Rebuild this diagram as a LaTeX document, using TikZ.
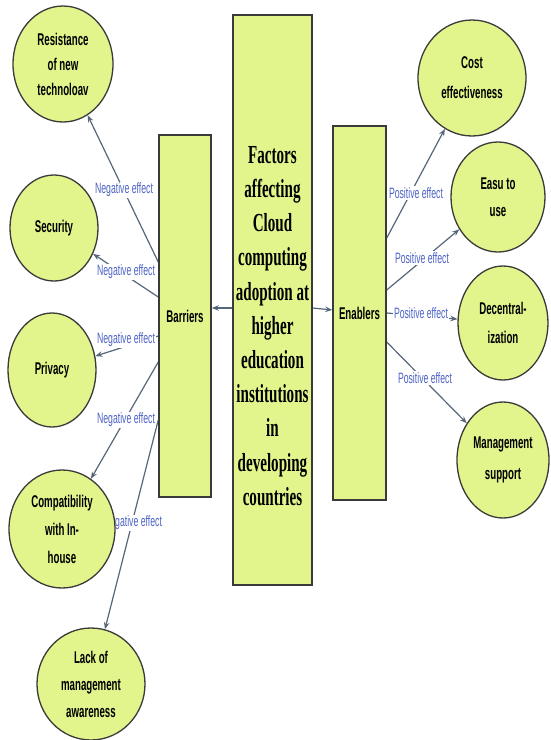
\documentclass[tikz,border=0pt]{standalone}
\usepackage{fontspec}
\usetikzlibrary{shapes.geometric,arrows.meta,calc}
\newfontfamily\serifc[FakeStretch=0.58]{Liberation Serif}
\newfontfamily\sansc[FakeStretch=0.57]{Liberation Sans}
\newfontfamily\sansl[FakeStretch=0.58]{Liberation Sans}
\definecolor{boxfill}{HTML}{E2F58C}
\definecolor{edgecol}{HTML}{56677A}
\definecolor{labcol}{HTML}{4D63C6}
\definecolor{bordercol}{HTML}{3A3A3A}
\pgfdeclarelayer{bg}
\pgfdeclarelayer{edges}
\pgfsetlayers{bg,edges,main}
\begin{document}
\begin{tikzpicture}[x=1pt,y=-1pt,
 factor/.style={ellipse, draw=bordercol, line width=1.3pt, fill=boxfill, inner sep=0pt, align=center, font=\sansc\bfseries\fontsize{17}{27}\selectfont},
 group/.style={rectangle, draw=bordercol, line width=1.5pt, fill=boxfill, inner sep=0pt, font=\sansc\bfseries\fontsize{17}{18}\selectfont},
 effect/.style={fill=white, inner sep=1pt, text=labcol, font=\sansl\fontsize{15}{16}\selectfont},
 link/.style={draw=edgecol, line width=1.2pt, -{Stealth[length=7pt,width=5.5pt]}},
 centertext/.style={align=center, inner sep=0pt, font=\serifc\bfseries\fontsize{26}{34.2}\selectfont}
]
\useasboundingbox (0,0) rectangle (550,740);
\begin{pgfonlayer}{bg}
\fill[white] (0,0) rectangle (550,740);
\end{pgfonlayer}

% boxes
\node[group, minimum width=79pt, minimum height=570pt] (fac) at (272.5,300) {};
\node[centertext] (factxt) at ([yshift=-26pt]fac.center) {Factors\\affecting\\Cloud\\computing\\adoption at\\higher\\education\\institutions\\in\\developing\\countries};
\node[group, minimum width=52pt, minimum height=362pt] (bar) at (185,316) {Barriers};
\node[group, minimum width=53pt, minimum height=374pt] (ena) at (359.5,313) {Enablers};

% barrier factors
\node[factor, minimum width=100pt, minimum height=116pt, font=\sansc\bfseries\fontsize{17}{25}\selectfont] (res) at (63,64) {Resistance\\of new\\technoloav};
\node[factor, minimum width=88pt, minimum height=106pt] (sec) at (54,228) {Security};
\node[factor, minimum width=88pt, minimum height=114pt] (pri) at (52,370) {Privacy};
\node[factor, minimum width=106pt, minimum height=118pt, font=\sansc\bfseries\fontsize{17}{28}\selectfont] (com) at (62,529) {Compatibility\\with In-\\house};
\node[factor, minimum width=108pt, minimum height=112pt] (lac) at (91,684) {Lack of\\management\\awareness};

% enabler factors
\node[factor, minimum width=108pt, minimum height=116pt, font=\sansc\bfseries\fontsize{17}{30}\selectfont] (cos) at (472,78) {Cost\\effectiveness};
\node[factor, minimum width=94pt, minimum height=110pt] (eas) at (498,197) {Easu to\\use};
\node[factor, minimum width=90pt, minimum height=114pt, font=\sansc\bfseries\fontsize{17}{29}\selectfont] (dec) at (503,323) {Decentral-\\ization};
\node[factor, minimum width=92pt, minimum height=116pt, font=\sansc\bfseries\fontsize{17}{31}\selectfont] (man) at (503,460) {Management\\support};

\begin{pgfonlayer}{edges}
\draw[link] ([yshift=-8pt]fac.west) -- ([yshift=8pt]bar.east);
\draw[link] ([yshift=-8pt]fac.east) -- ([yshift=3pt]ena.west);

\draw[link] ([yshift=54pt]bar.west) -- (res);
\draw[link] ([yshift=19pt]bar.west) -- (sec);
\draw[link] ([yshift=-20pt]bar.west) -- (pri);
\draw[link] ([yshift=-46pt]bar.west) -- (com);
\draw[link] ([yshift=-104pt]bar.west) -- (lac);

\draw[link] ([yshift=75pt]ena.east) -- (cos);
\draw[link] ([yshift=23pt]ena.east) -- (eas);
\draw[link] (ena.east) -- (dec);
\draw[link] ([yshift=-29pt]ena.east) -- (man);

\node[effect] (n1) at (124,190) {Negative effect};
\node[effect] (n2) at (126,272) {Negative effect};
\node[effect] (n3) at (126,340) {Negative effect};
\node[effect] (n4) at (126,420) {Negative effect};
\node[effect] (n5) at (133,523) {Negative effect};

\node[effect] (p1) at (416,193) {Positive effect};
\node[effect] (p2) at (422,258) {Positive effect};
\node[effect] (p3) at (421,313) {Positive effect};
\node[effect] (p4) at (425,378) {Positive effect};
\end{pgfonlayer}
\end{tikzpicture}
\end{document}
